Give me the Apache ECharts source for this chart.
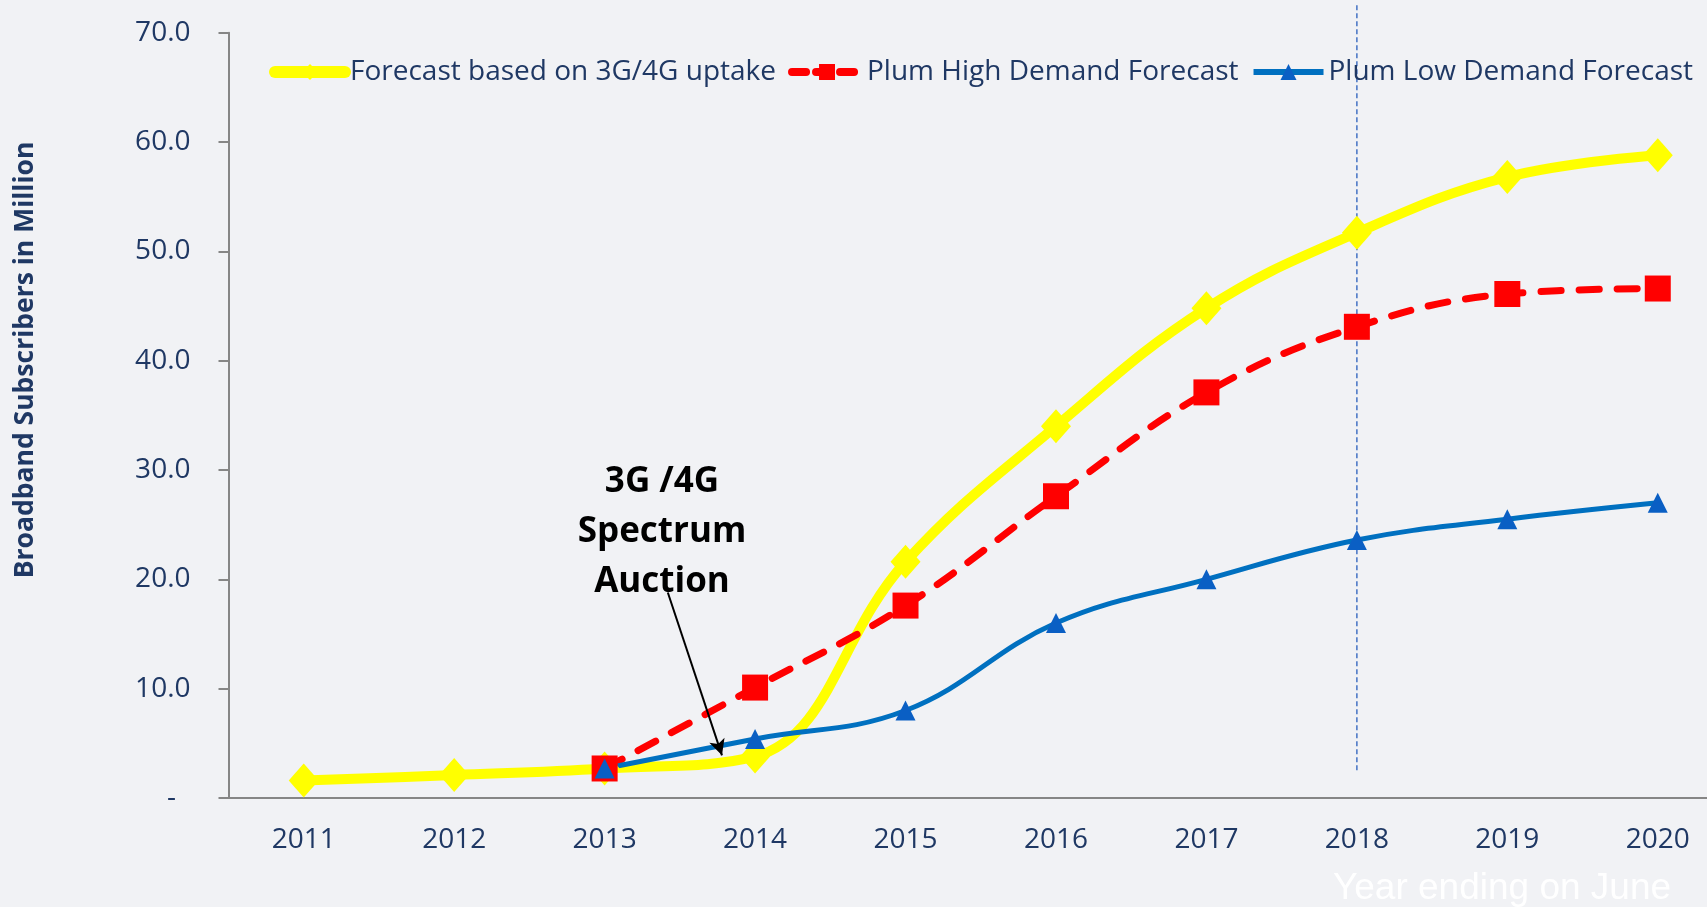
<!DOCTYPE html>
<html>
<head>
<meta charset="utf-8">
<title>Broadband Subscribers Forecast</title>
<script src="https://cdn.jsdelivr.net/npm/echarts@6/dist/echarts.min.js"></script>
<style>
  html, body { margin: 0; padding: 0; background: #f1f2f5; }
  #main { width: 1707px; height: 907px; }
</style>
</head>
<body>
<div id="main"></div>
<script>
// categories and series values (million subscribers, year ending June)
const years = ['2011', '2012', '2013', '2014', '2015', '2016', '2017', '2018', '2019', '2020'];
const uptakeForecast = [1.6, 2.1, 2.7, 3.8, 21.6, 34.0, 44.8, 51.7, 56.8, 58.8];
const highDemand = [null, null, 2.7, 10.1, 17.6, 27.6, 37.1, 43.1, 46.1, 46.6];
const lowDemand = [null, null, 2.7, 5.4, 8.0, 16.0, 20.0, 23.6, 25.5, 27.0];
const seriesNames = ['Forecast based on 3G/4G uptake', 'Plum High Demand Forecast', 'Plum Low Demand Forecast'];

// axis range
const yMin = 0;
const yMax = 70;
const yStep = 10;

// annotations, in (category index, value) units
const auctionText = ['3G /4G', 'Spectrum', 'Auction'];
const auctionArrow = [[2.42, 18.8], [2.78, 3.9]];
const dividerLine = [[7, 72.5], [7, 2.5]];

const navy = '#1f3864';
const axisGray = '#868686';
const font = '"Open Sans", sans-serif';

const chart = echarts.init(document.getElementById('main'));

const option = {
  animation: false,
  backgroundColor: '#f1f2f5',
  // last category runs past the right edge of the picture
  grid: { left: 228.5, right: -26, top: 32.7, bottom: 109, outerBoundsMode: 'none' },
  legend: {
    left: 264,
    top: 53,
    width: 1440,
    itemWidth: 70,
    itemHeight: 20,
    itemGap: 12,
    textStyle: { color: navy, fontSize: 28, fontFamily: font },
    data: [
      { name: seriesNames[0], lineStyle: { width: 12, color: '#ffff00' } },
      { name: seriesNames[1], lineStyle: { width: 8, color: '#ff0000', type: [14, 10], cap: 'round' } },
      { name: seriesNames[2], lineStyle: { width: 6, color: '#0070c0' } }
    ]
  },
  xAxis: [
    {
      type: 'category',
      data: years,
      axisLine: { lineStyle: { color: axisGray, width: 2 } },
      axisTick: { length: 10, lineStyle: { color: axisGray, width: 2 } },
      axisLabel: { color: navy, fontSize: 28, fontFamily: font, margin: 28 }
    },
    {
      // hidden helper axis so annotations can sit between categories
      type: 'value',
      show: false,
      min: -0.5,
      max: years.length - 0.5
    }
  ],
  yAxis: {
    type: 'value',
    min: yMin,
    max: yMax,
    interval: yStep,
    axisLine: { show: true, onZero: false, lineStyle: { color: axisGray, width: 2 } },
    axisTick: { show: true, length: 10, lineStyle: { color: axisGray, width: 2 } },
    splitLine: { show: false },
    axisLabel: {
      color: navy,
      fontSize: 28,
      fontFamily: font,
      margin: 38,
      formatter: (v) => (v === 0 ? '-  ' : v.toFixed(1))
    }
  },
  series: [
    {
      name: seriesNames[0],
      type: 'line',
      data: uptakeForecast,
      smooth: 0.4,
      symbol: 'diamond',
      symbolSize: [30, 34],
      lineStyle: { color: '#ffff00', width: 10, cap: 'round' },
      itemStyle: { color: '#ffff00' }
    },
    {
      name: seriesNames[1],
      type: 'line',
      data: highDemand,
      smooth: 0.4,
      symbol: 'rect',
      symbolSize: 26,
      lineStyle: { color: '#ff0000', width: 7, type: [20, 18], cap: 'round' },
      itemStyle: { color: '#ff0000' }
    },
    {
      name: seriesNames[2],
      type: 'line',
      data: lowDemand,
      smooth: 0.4,
      symbol: 'triangle',
      symbolSize: 20,
      lineStyle: { color: '#0070c0', width: 5 },
      itemStyle: { color: '#0a5fc4' }
    },
    {
      name: 'annotations',
      type: 'line',
      xAxisIndex: 1,
      data: [],
      silent: true,
      markLine: {
        silent: true,
        animation: false,
        label: { show: false },
        data: [
          [
            { coord: auctionArrow[0], symbol: 'none', lineStyle: { color: '#000', width: 2, type: 'solid' } },
            { coord: auctionArrow[1], symbol: 'arrow', symbolSize: [12, 16] }
          ]
        ]
      }
    }
  ],
  graphic: [
    {
      type: 'text',
      x: 25,
      y: 360,
      rotation: Math.PI / 2,
      style: {
        text: 'Broadband Subscribers in Million',
        align: 'center',
        verticalAlign: 'middle',
        fill: navy,
        font: 'bold 26.5px "Open Sans", sans-serif'
      }
    },
    {
      type: 'text',
      x: 662,
      y: 457,
      style: {
        text: auctionText.join('\n'),
        align: 'center',
        fill: '#000',
        font: 'bold 35px "Open Sans", sans-serif',
        lineHeight: 50
      }
    },
    {
      type: 'text',
      left: 1333,
      top: 870,
      style: {
        text: 'Year ending on June',
        fill: '#ffffff',
        font: '37px "Liberation Sans", Arial, sans-serif'
      }
    }
  ]
};

chart.setOption(option);

// dashed divider at 2018 runs above the axis max, so place it through the axes
const divTop = chart.convertToPixel({ xAxisIndex: 1, yAxisIndex: 0 }, dividerLine[0]);
const divBottom = chart.convertToPixel({ xAxisIndex: 1, yAxisIndex: 0 }, dividerLine[1]);
chart.setOption({
  graphic: [
    {
      type: 'line',
      id: 'divider',
      shape: { x1: divTop[0], y1: divTop[1], x2: divBottom[0], y2: divBottom[1] },
      style: { stroke: '#4472c4', lineWidth: 1.5, lineDash: [5, 3] },
      z: 1
    }
  ]
});
</script>
</body>
</html>
